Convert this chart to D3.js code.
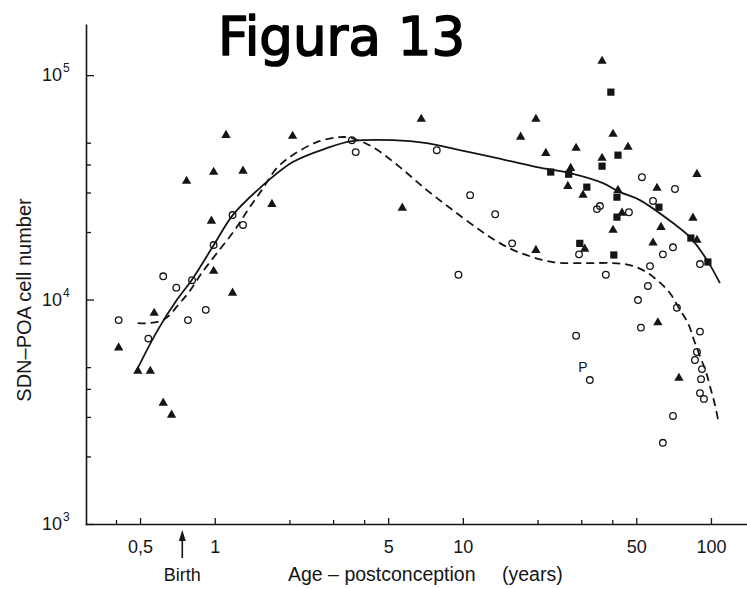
<!DOCTYPE html>
<html>
<head>
<meta charset="utf-8">
<script src="https://cdn.jsdelivr.net/npm/d3@7"></script>
<style>
  html, body { margin: 0; padding: 0; background: #fff; }
  svg { display: block; }
</style>
</head>
<body>
<script>
// SDN-POA cell number against age postconception, log-log scales.
// Each point is [age in years, cell number].
const triangles = [
  [0.41, 6100], [0.49, 4800], [0.55, 4800], [0.57, 8700], [0.62, 3460], [0.67, 3060],
  [0.77, 33700], [0.99, 37000], [1.11, 54000], [1.30, 37400], [0.97, 22400], [0.99, 13400],
  [1.18, 10700], [1.70, 26600], [2.06, 53500], [5.7, 25600], [6.8, 63700], [17.1, 53000],
  [19.7, 63700], [21.6, 44900], [19.7, 16600], [26.5, 32000], [27.2, 38500], [28.6, 47300],
  [30.5, 29200], [31.0, 16800], [36.4, 115500], [36.4, 42700], [40.3, 54600], [42.2, 30700],
  [40.3, 20400], [43.8, 24300], [46.3, 47800], [60.6, 31400], [62.9, 21000], [58.4, 17900],
  [84.6, 23100], [87.8, 36200], [87.8, 18400], [61.1, 7900], [74.3, 4470]
];
const squares = [
  [39.5, 84000], [42.2, 44000], [36.4, 39300], [22.6, 37000], [26.7, 36200], [31.6, 31700],
  [41.8, 28600], [41.8, 23300], [29.6, 17800], [40.6, 15800], [61.7, 25800], [83.0, 18800],
  [97.2, 14700]
];
const circles = [
  [0.41, 8100], [0.54, 6700], [0.62, 12700], [0.70, 11300], [0.81, 12200], [0.78, 8100],
  [0.92, 9000], [0.99, 17500], [1.18, 23800], [1.30, 21500], [3.57, 51300], [3.70, 45400],
  [7.85, 46300], [10.7, 29200], [13.5, 24000], [15.8, 17800], [9.6, 12900], [34.7, 25300],
  [35.7, 26100], [46.7, 24500], [29.4, 15900], [37.7, 12900], [28.6, 6900], [32.5, 4380],
  [52.7, 35100], [71.6, 31100], [58.4, 27500], [70.3, 17100], [64.0, 15900], [56.8, 14100],
  [55.7, 11500], [50.8, 9950], [52.2, 7500], [90.3, 14400], [72.9, 9200], [90.3, 7200],
  [87.8, 5840], [86.2, 5380], [92.0, 4900], [91.2, 4420], [90.3, 3830], [93.7, 3610],
  [70.3, 3030], [64.0, 2300]
];
// fitted curves
const solidCurve = [
  [0.485, 4850], [0.589, 7310], [0.703, 9950], [0.808, 12220], [0.991, 17490], [1.182, 23790],
  [1.519, 31380], [2.063, 40980], [2.83, 47290], [3.57, 50820], [5.22, 51330], [7.16, 49790],
  [9.72, 46330], [13.2, 43120], [19.9, 38930], [27.0, 36600], [36.7, 33030], [43.0, 30110],
  [51.7, 27750], [70.3, 21920], [82.3, 18980], [96.4, 14990], [108.7, 11840]
];
const dashedCurve = [
  [0.489, 7860], [0.547, 7860], [0.629, 8190], [0.723, 9650], [0.793, 10910], [0.886, 13120],
  [1.028, 16280], [1.204, 20400], [1.359, 25040], [1.547, 30740], [1.778, 38520], [2.063, 44020],
  [2.578, 50300], [3.19, 52950], [3.567, 52410], [4.34, 47780], [5.57, 38930], [7.16, 30740],
  [9.11, 25040], [11.7, 20400], [14.1, 17850], [16.7, 16280], [23.1, 14690], [31.6, 14540],
  [40.3, 14540], [47.1, 14240], [53.2, 13530], [60.6, 12220], [68.3, 10690], [75.0, 8980],
  [80.8, 7860], [85.4, 6600], [90.3, 5600], [95.5, 4755], [100, 3955], [103.8, 3390], [107.7, 2790]
];
const pointLabel = { age: 32.5, count: 4380, text: "P" };
const birthAge = 0.74;

const xTicks = [0.4, 0.5, 1, 2, 3, 4, 5, 10, 20, 30, 40, 50, 100];
const xLabelValues = [0.5, 1, 5, 10, 50, 100];
const xLabelTexts = ["0,5", "1", "5", "10", "50", "100"];
const yTicks = [1e3, 2e3, 3e3, 4e3, 5e3, 1e4, 2e4, 3e4, 4e4, 5e4, 1e5];
const yLabelValues = [1e3, 1e4, 1e5];
const yLabelExps = ["3", "4", "5"];

const width = 747, height = 589;
const ink = "#151515";
const font = "'Liberation Sans', Arial, Helvetica, sans-serif";

const svg = d3.select("body").append("svg")
  .attr("width", width)
  .attr("height", height)
  .attr("font-family", font);

svg.append("rect").attr("width", width).attr("height", height).attr("fill", "#fff");

const x = d3.scaleLog().domain([0.3, 145]).range([85, 751]);
const y = d3.scaleLog().domain([1e3, 1.69e5]).range([524, 24]);

// title
svg.append("text")
  .attr("x", 218)
  .attr("y", 55)
  .attr("font-family", "'Comic Sans MS', 'DejaVu Sans', sans-serif")
  .attr("font-size", 53)
  .attr("fill", "#000")
  .attr("stroke", "#000")
  .attr("stroke-width", 1.6)
  .attr("stroke-linejoin", "round")
  .text("Figura 13");

// x axis, ticks pointing up into the plot
const xAxis = svg.append("g")
  .attr("transform", `translate(0,${y.range()[0]})`)
  .call(d3.axisBottom(x)
    .tickValues(xTicks)
    .tickSize(-6)
    .tickSizeOuter(0)
    .tickPadding(16)
    .tickFormat(d => {
      const i = xLabelValues.indexOf(d);
      return i < 0 ? "" : xLabelTexts[i];
    }));
xAxis.select(".domain").attr("stroke", ink).attr("stroke-width", 1.6);
xAxis.selectAll(".tick line")
  .attr("stroke", ink)
  .attr("stroke-width", 1.3)
  .attr("y2", d => (xLabelValues.includes(d) ? -6 : -4));
xAxis.selectAll(".tick text")
  .attr("fill", ink)
  .attr("font-family", font)
  .attr("font-size", 18);

// y axis, ticks pointing right
const yAxis = svg.append("g")
  .attr("transform", `translate(${x.range()[0] + 1},0)`)
  .call(d3.axisLeft(y)
    .tickValues(yTicks)
    .tickSize(-8)
    .tickSizeOuter(0)
    .tickFormat(""));
yAxis.select(".domain").attr("stroke", ink).attr("stroke-width", 1.6);
yAxis.selectAll(".tick line")
  .attr("stroke", ink)
  .attr("stroke-width", 1.3)
  .attr("x2", d => (yLabelValues.includes(d) ? 8 : 5));

// y labels as 10 with a raised exponent
const yLab = svg.append("g").attr("fill", ink);
yLabelValues.forEach((v, i) => {
  yLab.append("text")
    .attr("x", 62)
    .attr("y", y(v) + 6)
    .attr("text-anchor", "end")
    .attr("font-size", 18)
    .text("10");
  yLab.append("text")
    .attr("x", 63)
    .attr("y", y(v) - 3)
    .attr("font-size", 12)
    .text(yLabelExps[i]);
});

// axis titles
svg.append("text")
  .attr("transform", "translate(31,300) rotate(-90)")
  .attr("text-anchor", "middle")
  .attr("font-size", 20)
  .attr("fill", ink)
  .text("SDN–POA cell number");

const xTitle = svg.append("text")
  .attr("x", 288)
  .attr("y", 581)
  .attr("font-size", 19.5)
  .attr("fill", ink);
xTitle.append("tspan").text("Age – postconception");
xTitle.append("tspan").attr("x", 502).text("(years)");

// birth arrow
const bx = x(birthAge);
svg.append("line")
  .attr("x1", bx).attr("x2", bx)
  .attr("y1", 538).attr("y2", 558)
  .attr("stroke", ink)
  .attr("stroke-width", 1.6);
svg.append("path")
  .attr("d", `M${bx},530L${bx - 3.5},541L${bx + 3.5},541Z`)
  .attr("fill", ink);
svg.append("text")
  .attr("x", bx)
  .attr("y", 581)
  .attr("text-anchor", "middle")
  .attr("font-size", 18)
  .attr("fill", ink)
  .text("Birth");

// curves
const line = d3.line()
  .x(d => x(d[0]))
  .y(d => y(d[1]))
  .curve(d3.curveCatmullRom.alpha(0.5));

svg.append("path")
  .datum(solidCurve)
  .attr("d", line)
  .attr("fill", "none")
  .attr("stroke", ink)
  .attr("stroke-width", 1.8);

svg.append("path")
  .datum(dashedCurve)
  .attr("d", line)
  .attr("fill", "none")
  .attr("stroke", ink)
  .attr("stroke-width", 1.8)
  .attr("stroke-dasharray", "8,5");

// markers
svg.append("g")
  .selectAll("circle")
  .data(circles)
  .join("circle")
  .attr("cx", d => x(d[0]))
  .attr("cy", d => y(d[1]))
  .attr("r", 3.3)
  .attr("fill", "none")
  .attr("stroke", ink)
  .attr("stroke-width", 1.3);

svg.append("g")
  .selectAll("path")
  .data(triangles)
  .join("path")
  .attr("transform", d => `translate(${x(d[0])},${y(d[1])})`)
  .attr("d", d3.symbol(d3.symbolTriangle, 38))
  .attr("fill", ink);

svg.append("g")
  .selectAll("path")
  .data(squares)
  .join("path")
  .attr("transform", d => `translate(${x(d[0])},${y(d[1])})`)
  .attr("d", d3.symbol(d3.symbolSquare, 52))
  .attr("fill", ink);

svg.append("text")
  .attr("x", x(pointLabel.age) - 7)
  .attr("y", y(pointLabel.count) - 8)
  .attr("text-anchor", "middle")
  .attr("font-size", 14)
  .attr("fill", ink)
  .text(pointLabel.text);
</script>
</body>
</html>
